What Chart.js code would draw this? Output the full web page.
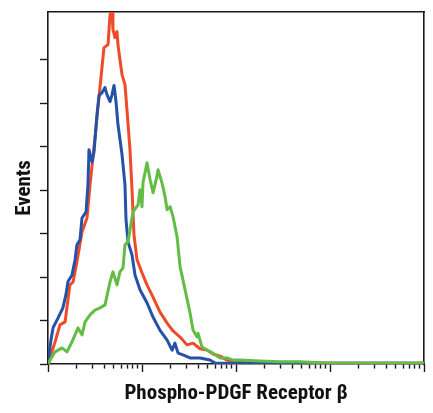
<!DOCTYPE html>
<html>
<head>
<meta charset="utf-8">
<script src="https://cdn.jsdelivr.net/npm/chart.js@4"></script>
<style>
  html, body { margin: 0; padding: 0; background: #ffffff; }
  #wrap { width: 433px; height: 413px; position: relative; }
</style>
</head>
<body>
<div id="wrap"><canvas id="c"></canvas></div>
<script>
// Axis titles
const xTitle = 'Phospho-PDGF Receptor β';
const yTitle = 'Events';

// Tick values
const xTicksMajor = [1, 10, 100, 1000, 10000];
const xTicksMinor = [2, 3, 4, 5, 6, 7, 8, 9,
  20, 30, 40, 50, 60, 70, 80, 90,
  200, 300, 400, 500, 600, 700, 800, 900,
  2000, 3000, 4000, 5000, 6000, 7000, 8000, 9000];
const yTicks = [0, 1, 2, 3, 4, 5, 6, 7];

// Red series (x = fluorescence, y = events)
const redX = [1.025, 1.10, 1.19, 1.34, 1.52, 1.71, 1.85, 2.03, 2.30, 2.60, 2.80, 3.16, 3.57, 3.94, 4.35, 4.57, 4.80, 4.91, 5.16, 5.42, 5.55, 5.83, 6.13, 6.59, 6.92, 7.45, 7.83, 8.22, 8.85, 10, 11.3, 13.1, 15.5, 18.5, 21.4, 25.4, 30.1, 34.9, 41.4, 49.1, 56.9, 67.6, 80.2, 97.6, 141, 10000];
const redY = [0.02, 0.28, 0.51, 0.90, 0.97, 1.82, 1.89, 2.35, 3.04, 3.36, 4.12, 5.21, 6.36, 7.28, 7.35, 8.04, 8.11, 7.70, 7.51, 7.65, 7.35, 7.00, 6.66, 6.43, 5.85, 4.93, 4.01, 2.97, 2.40, 2.10, 1.82, 1.54, 1.20, 0.94, 0.76, 0.62, 0.44, 0.48, 0.35, 0.32, 0.23, 0.18, 0.09, 0.05, 0.02, 0.02];

// Blue series
const blueX = [1, 1.076, 1.13, 1.28, 1.44, 1.55, 1.63, 1.80, 1.94, 2.03, 2.19, 2.30, 2.54, 2.66, 2.73, 2.94, 3.09, 3.32, 3.49, 3.75, 4.04, 4.24, 4.57, 4.80, 5.04, 5.29, 5.55, 6.13, 6.59, 6.76, 7.10, 7.83, 8.43, 9.52, 11.3, 13.1, 15.5, 18.5, 20.9, 22.4, 24.2, 27.3, 32.4, 41.4, 52.9, 59.8, 10000];
const blueY = [0.05, 0.55, 0.83, 1.06, 1.29, 1.59, 1.89, 2.05, 2.40, 2.74, 2.86, 3.36, 3.50, 4.12, 4.93, 4.65, 4.88, 5.74, 6.18, 6.24, 6.36, 6.20, 6.04, 6.20, 6.41, 6.04, 5.51, 4.82, 4.12, 3.32, 2.81, 2.51, 2.05, 1.71, 1.41, 1.08, 0.78, 0.55, 0.32, 0.48, 0.25, 0.21, 0.14, 0.14, 0.09, 0.02, 0.02];

// Green series
const greenX = [1, 1.05, 1.19, 1.41, 1.59, 1.80, 2.09, 2.30, 2.48, 2.80, 3.16, 3.57, 4.04, 4.57, 4.91, 5.42, 5.83, 6.28, 6.59, 7.10, 8.02, 9.07, 9.52, 10, 10.25, 11.3, 12.2, 13.1, 14.4, 14.8, 16.3, 17.6, 18.5, 19.9, 21.4, 23.6, 25.4, 28.7, 32.4, 34.9, 38.5, 39.4, 43.5, 49.1, 56.9, 67.6, 80.2, 92.9, 110, 180, 294, 480, 1000, 10000];
const greenY = [0.02, 0.09, 0.28, 0.37, 0.28, 0.51, 0.83, 0.67, 0.97, 1.13, 1.24, 1.29, 1.36, 1.89, 2.12, 1.82, 2.12, 2.21, 2.74, 2.81, 3.50, 3.66, 4.01, 3.62, 4.17, 4.63, 4.24, 3.94, 4.31, 4.47, 4.17, 3.85, 3.55, 3.62, 3.39, 2.93, 2.24, 1.71, 1.18, 0.78, 0.62, 0.71, 0.39, 0.32, 0.25, 0.14, 0.14, 0.09, 0.09, 0.07, 0.05, 0.05, 0.02, 0.02];

const toPoints = (xs, ys) => xs.map((x, i) => ({ x: x, y: ys[i] }));

// pick a condensed bold face if one is installed, and size it to the reference title width
const fontCandidates = ["'Roboto Condensed'", "'Liberation Sans Narrow'", "'Noto Sans Condensed'",
  "'DejaVu Sans Condensed'", "'Open Sans Condensed'", "'Arial Narrow'"];
const mctx = document.createElement('canvas').getContext('2d');
function textWidth(fontStr) { mctx.font = fontStr; return mctx.measureText(xTitle).width; }
let FONT = "'Liberation Sans', Arial, sans-serif";
for (const f of fontCandidates) {
  const a = textWidth('bold 40px ' + f + ', monospace');
  const b = textWidth('bold 40px monospace');
  if (Math.abs(a - b) > 0.5) { FONT = f + ", 'Liberation Sans', sans-serif"; break; }
}
const w40 = textWidth('bold 40px ' + FONT);
let TITLE_SIZE = Math.max(16, Math.min(21, Math.round(40 * 226 / w40 * 10) / 10));

const AXIS = '#1a1a1a';

function lineSet(label, pts, color, order) {
  return {
    label: label, data: pts, borderColor: color, backgroundColor: color,
    borderWidth: 3, pointRadius: 0, tension: 0, fill: false, order: order,
    borderJoinStyle: 'round', borderCapStyle: 'round'
  };
}

new Chart(document.getElementById('c'), {
  type: 'line',
  data: {
    datasets: [
      lineSet('green', toPoints(greenX, greenY), '#62bd45', 0),
      lineSet('blue', toPoints(blueX, blueY), '#2352a8', 1),
      lineSet('red', toPoints(redX, redY), '#f04b28', 2)
    ]
  },
  options: {
    responsive: true,
    maintainAspectRatio: false,
    animation: false,
    events: [],
    layout: { padding: { top: 12, right: 9, left: 0, bottom: 0 } },
    plugins: { legend: { display: false }, tooltip: { enabled: false } },
    scales: {
      x: {
        type: 'logarithmic', position: 'bottom', min: 1, max: 10000,
        afterBuildTicks: (s) => {
          s.ticks = xTicksMajor.concat(xTicksMinor).sort((a, b) => a - b).map(v => ({ value: v }));
        },
        afterFit: (s) => { s.height = 49; },
        ticks: { display: false },
        grid: {
          drawOnChartArea: false, drawTicks: true, tickLength: 8,
          tickColor: AXIS, tickWidth: 1.4,
          tickBorderDash: (ctx) => (ctx.tick && xTicksMajor.includes(ctx.tick.value)) ? [] : [4, 40]
        },
        border: { display: true, color: AXIS, width: 1.6 },
        title: {
          display: true, text: xTitle, color: '#111',
          font: { family: FONT, size: TITLE_SIZE, weight: 'bold' },
          padding: { top: 0, bottom: 7 }
        }
      },
      y: {
        type: 'linear', position: 'left', min: 0, max: 8.1,
        afterBuildTicks: (s) => { s.ticks = yTicks.map(v => ({ value: v })); },
        afterFit: (s) => { s.width = 48; },
        ticks: { display: false },
        grid: { drawOnChartArea: false, drawTicks: true, tickLength: 8, tickColor: AXIS, tickWidth: 1.4 },
        border: { display: true, color: AXIS, width: 1.6 },
        title: {
          display: true, text: yTitle, color: '#111',
          font: { family: FONT, size: TITLE_SIZE, weight: 'bold' },
          padding: { top: 12, bottom: 0 }
        }
      },
      xTop: {
        type: 'linear', position: 'top', display: true,
        afterFit: (s) => { s.height = 0; },
        ticks: { display: false },
        grid: { drawOnChartArea: false, drawTicks: false },
        border: { display: true, color: AXIS, width: 1.6 }
      },
      yRight: {
        type: 'linear', position: 'right', display: true,
        afterFit: (s) => { s.width = 0; },
        ticks: { display: false },
        grid: { drawOnChartArea: false, drawTicks: false },
        border: { display: true, color: AXIS, width: 1.6 }
      }
    }
  }
});
</script>
</body>
</html>
